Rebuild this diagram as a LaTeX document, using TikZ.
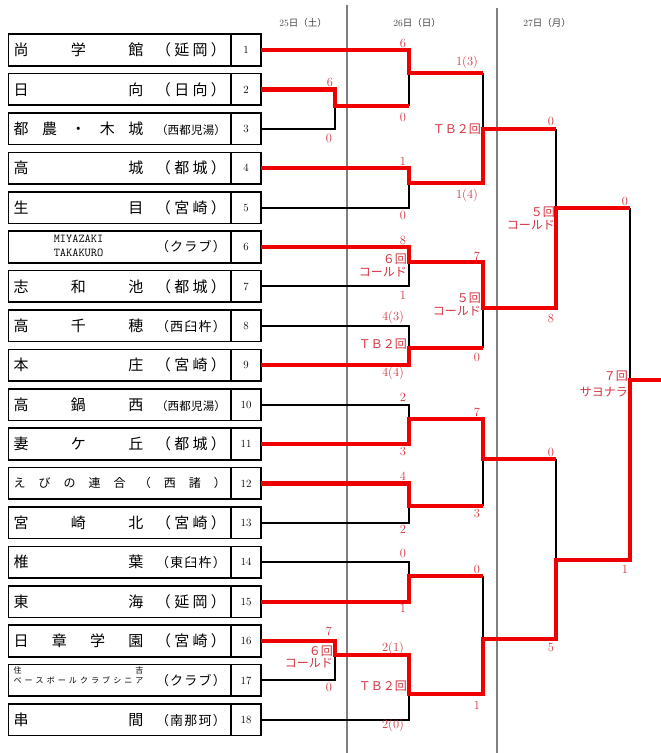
\documentclass[tikz,border=0pt]{standalone}
\usepackage{fontspec}
\newfontfamily\jp{Noto Sans CJK JP}
\definecolor{winred}{RGB}{238,0,0}
\definecolor{scorered}{RGB}{212,52,64}
\definecolor{gridgray}{RGB}{128,128,128}
\definecolor{datetext}{RGB}{70,70,70}
\newcommand\nmpart[1]{\makebox[130pt][s]{\fontsize{15}{15}\selectfont\jp #1}}
\newcommand\teamrow[5]{%
  \node[namebox] (t#1) at (119.75,#2) {\hbox to 212.5pt{#3\hfill\makebox[70pt][s]{\fontsize{#4}{#4}\selectfont\jp #5}}};
  \node[numbox] (n#1) at (246,#2) {#1};}
\begin{document}
\begin{tikzpicture}[x=1pt,y=-1pt,
  namebox/.style={draw=black, line width=1.6pt, minimum width=222.5pt, minimum height=31.5pt, inner sep=0pt, outer sep=0pt, fill=white},
  numbox/.style={draw=black, line width=1.6pt, minimum width=30pt, minimum height=31.5pt, inner sep=0pt, outer sep=0pt, fill=white, font=\fontsize{11}{11}\selectfont},
  lose/.style={draw=black, line width=2pt},
  win/.style={draw=winred, line width=4.2pt},
  score/.style={text=scorered, inner sep=0pt, font=\fontsize{12.5}{12.5}\selectfont},
  note/.style={text=scorered, inner sep=0pt, anchor=east, font=\fontsize{12}{12}\selectfont\jp},
  date/.style={text=datetext, inner sep=0pt, font=\fontsize{9.5}{9.5}\selectfont},
  grid/.style={draw=gridgray, line width=1.3pt}]
\useasboundingbox (0,0) rectangle (661,753);
\fill[white] (0,0) rectangle (661,753);
% day separators
\coordinate (g1t) at (347,5); \coordinate (g1b) at (347,753);
\coordinate (g2t) at (497,8); \coordinate (g2b) at (497,753);
\draw[grid] (g1t) -- (g1b);
\draw[grid] (g2t) -- (g2b);
% dates
\node[date] (d25) at (303,23) {25{\jp 日（土）}};
\node[date] (d26) at (417,23) {26{\jp 日（日）}};
\node[date] (d27) at (547,23) {27{\jp 日（月）}};
% teams
\teamrow{1}{50}{\nmpart{尚\hfill 学\hfill 館}}{15}{（\hfill 延\hfill 岡\hfill ）}
\teamrow{2}{89.4}{\nmpart{日\hfill 向}}{15}{（\hfill 日\hfill 向\hfill ）}
\teamrow{3}{128.8}{\nmpart{都\hfill 農\hfill ・\hfill 木\hfill 城}}{11.5}{（\hfill 西\hfill 都\hfill 児\hfill 湯\hfill ）}
\teamrow{4}{168.2}{\nmpart{高\hfill 城}}{15}{（\hfill 都\hfill 城\hfill ）}
\teamrow{5}{207.6}{\nmpart{生\hfill 目}}{15}{（\hfill 宮\hfill 崎\hfill ）}
\teamrow{6}{247}{\makebox[130pt]{\raisebox{2pt}[0pt][0pt]{\fontsize{12}{14}\selectfont\ttfamily\begin{tabular}{@{}c@{}}MIYAZAKI\\TAKAKURO\end{tabular}}}}{13}{（\hfill ク\hfill ラ\hfill ブ\hfill ）}
\teamrow{7}{286.4}{\nmpart{志\hfill 和\hfill 池}}{15}{（\hfill 都\hfill 城\hfill ）}
\teamrow{8}{325.8}{\nmpart{高\hfill 千\hfill 穂}}{13}{（\hfill 西\hfill 臼\hfill 杵\hfill ）}
\teamrow{9}{365.2}{\nmpart{本\hfill 庄}}{15}{（\hfill 宮\hfill 崎\hfill ）}
\teamrow{10}{404.6}{\nmpart{高\hfill 鍋\hfill 西}}{11.5}{（\hfill 西\hfill 都\hfill 児\hfill 湯\hfill ）}
\teamrow{11}{444}{\nmpart{妻\hfill ケ\hfill 丘}}{15}{（\hfill 都\hfill 城\hfill ）}
\node[namebox] (t12) at (119.75,483.4) {\hbox to 212.5pt{\fontsize{12}{12}\selectfont\jp え\hfill び\hfill の\hfill 連\hfill 合\hfill （\hfill 西\hfill 諸\hfill ）}};
\node[numbox] (n12) at (246,483.4) {12};
\teamrow{13}{522.8}{\nmpart{宮\hfill 崎\hfill 北}}{15}{（\hfill 宮\hfill 崎\hfill ）}
\teamrow{14}{562.2}{\nmpart{椎\hfill 葉}}{13}{（\hfill 東\hfill 臼\hfill 杵\hfill ）}
\teamrow{15}{601.6}{\nmpart{東\hfill 海}}{15}{（\hfill 延\hfill 岡\hfill ）}
\teamrow{16}{641}{\nmpart{日\hfill 章\hfill 学\hfill 園}}{15}{（\hfill 宮\hfill 崎\hfill ）}
\teamrow{17}{680.4}{\makebox[130pt]{\raisebox{7pt}[0pt][0pt]{\fontsize{8}{10}\selectfont\jp\begin{tabular}{@{}c@{}}\makebox[130pt][s]{住\hfill 吉}\\\makebox[130pt][s]{ベ\hfill ー\hfill ス\hfill ボ\hfill ー\hfill ル\hfill ク\hfill ラ\hfill ブ\hfill シ\hfill ニ\hfill ア}\end{tabular}}}}{13}{（\hfill ク\hfill ラ\hfill ブ\hfill ）}
\teamrow{18}{719.8}{\nmpart{串\hfill 間}}{13}{（\hfill 南\hfill 那\hfill 珂\hfill ）}
% match junctions
\coordinate (mA) at (335,106);
\coordinate (mB) at (409,73);
\coordinate (mC) at (409,183);
\coordinate (mD) at (483,129);
\coordinate (mE) at (409,262);
\coordinate (mF) at (409,348);
\coordinate (mG) at (483,308);
\coordinate (mH) at (556,208);
\coordinate (mI) at (409,419);
\coordinate (mJ) at (409,506);
\coordinate (mK) at (483,459);
\coordinate (mL) at (409,576);
\coordinate (mM) at (335,655);
\coordinate (mN) at (409,694);
\coordinate (mO) at (483,639);
\coordinate (mP) at (556,560);
\coordinate (mQ) at (630,380);
\coordinate (champ) at (661,380);
% losing lines
\draw[lose] (n3.east) -| (mA);
\draw[lose] (n5.east) -| (mC);
\draw[lose] (n7.east) -| (mE);
\draw[lose] (n8.east) -| (mF);
\draw[lose] (n10.east) -| (mI);
\draw[lose] (n13.east) -| (mJ);
\draw[lose] (n14.east) -| (mL);
\draw[lose] (n17.east) -| (mM);
\draw[lose] (n18.east) -| (mN);
\draw[lose] (mA -| mB) -- (mB);
\draw[lose] (mB -| mD) -- (mD);
\draw[lose] (mD -| mH) -- (mH);
\draw[lose] (mF -| mG) -- (mG);
\draw[lose] (mH -| mQ) -- (mQ);
\draw[lose] (mJ -| mK) -- (mK);
\draw[lose] (mL -| mO) -- (mO);
\draw[lose] (mK -| mP) -- (mP);
% winning lines
\draw[win] (n2.east) -| (mA) -- (mA -| mB);
\draw[win] (n1.east) -| (mB) -- (mB -| mD);
\draw[win] (n4.east) -| (mC) -| (mD) -- (mD -| mH);
\draw[win] (n6.east) -| (mE) -| (mG) -| (mH) -- (mH -| mQ);
\draw[win] (n9.east) -| (mF) -- (mF -| mG);
\draw[win] (n11.east) -| (mI) -| (mK) -- (mK -| mP);
\draw[win] (n12.east) -| (mJ) -- (mJ -| mK);
\draw[win] (n15.east) -| (mL) -- (mL -| mO);
\draw[win] (n16.east) -| (mM) -| (mN) -| (mO) -| (mP) -| (mQ) -- (champ);
% scores
\node[score] (sA1) at (330,82) {6};
\node[score] (sA2) at (329,138) {0};
\node[score] (sB1) at (403,43) {6};
\node[score] (sB2) at (403,117) {0};
\node[score] (sC1) at (403,161) {1};
\node[score] (sC2) at (403,215) {0};
\node[score] (sD1) at (467,62) {1(3)};
\node[score] (sD2) at (467,195) {1(4)};
\node[note] (nD) at (481,129) {ＴＢ２回};
\node[score] (sE1) at (403,240) {8};
\node[score] (sE2) at (403,295) {1};
\node[note] (nE1) at (407,259) {６回};
\node[note] (nE2) at (407,272) {コールド};
\node[score] (sF1) at (393,317) {4(3)};
\node[score] (sF2) at (393,373) {4(4)};
\node[note] (nF) at (407,344) {ＴＢ２回};
\node[score] (sG1) at (477,256) {7};
\node[score] (sG2) at (477,357) {0};
\node[note] (nG1) at (481,298) {５回};
\node[note] (nG2) at (481,311) {コールド};
\node[score] (sH1) at (551,121) {0};
\node[score] (sH2) at (551,318) {8};
\node[note] (nH1) at (555,212) {５回};
\node[note] (nH2) at (555,225) {コールド};
\node[score] (sI1) at (403,397) {2};
\node[score] (sI2) at (403,451) {3};
\node[score] (sJ1) at (403,476) {4};
\node[score] (sJ2) at (403,529) {2};
\node[score] (sK1) at (477,412) {7};
\node[score] (sK2) at (477,513) {3};
\node[score] (sL1) at (403,553) {0};
\node[score] (sL2) at (403,608) {1};
\node[score] (sM1) at (329,631) {7};
\node[score] (sM2) at (329,687) {0};
\node[note] (nM1) at (333,651) {６回};
\node[note] (nM2) at (333,663) {コールド};
\node[score] (sN1) at (393,648) {2(1)};
\node[score] (sN2) at (393,725) {2(0)};
\node[note] (nN) at (407,686) {ＴＢ２回};
\node[score] (sO1) at (477,569) {0};
\node[score] (sO2) at (477,705) {1};
\node[score] (sP1) at (551,452) {0};
\node[score] (sP2) at (551,647) {5};
\node[score] (sQ1) at (625,201) {0};
\node[score] (sQ2) at (625,569) {1};
\node[note] (nQ1) at (628,376) {７回};
\node[note] (nQ2) at (628,392) {サヨナラ};
\end{tikzpicture}
\end{document}
